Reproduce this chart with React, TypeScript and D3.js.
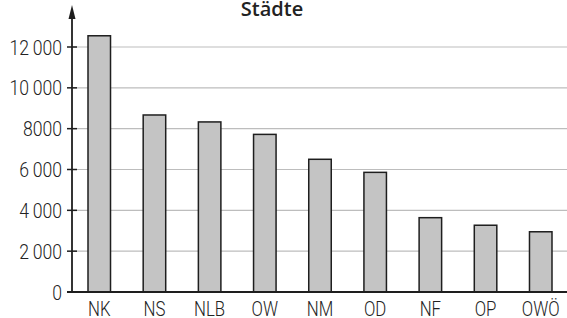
import * as d3 from "d3";
import { useRef, useEffect } from "react";

const categories = ["NK", "NS", "NLB", "OW", "NM", "OD", "NF", "OP", "OWÖ"];
const values = [12550, 8670, 8330, 7720, 6500, 5860, 3640, 3270, 2950];
const yTicks = [0, 2000, 4000, 6000, 8000, 10000, 12000];
const yTickLabels = ["0", "2\u2009000", "4\u2009000", "6\u2009000", "8000", "10\u2009000", "12\u2009000"];
const title = "Städte";

const W = 567;
const H = 318;
const FONT = "Roboto, 'DejaVu Sans', sans-serif";
const SQUEEZE = 0.84; // horizontal squeeze to mimic a condensed face

const App = () => {
  const ref = useRef<SVGSVGElement>(null);

  useEffect(() => {
    const svg = d3.select(ref.current);
    svg.selectAll("*").remove();

    const left = 72;
    const bottom = 292;

    const x = d3.scaleBand()
      .domain(categories)
      .range([left, 568])
      .paddingInner(0.592)
      .paddingOuter(0.29);

    const y = d3.scaleLinear()
      .domain([0, 12000])
      .range([bottom, 47]);

    // gridlines
    svg.append("g")
      .selectAll("line")
      .data(yTicks.filter((d) => d > 0))
      .join("line")
      .attr("x1", left)
      .attr("x2", W)
      .attr("y1", (d) => y(d))
      .attr("y2", (d) => y(d))
      .attr("stroke", "#bdbdbd")
      .attr("stroke-width", 1.2);

    // bars
    svg.append("g")
      .selectAll("rect")
      .data(values)
      .join("rect")
      .attr("x", (_, i) => x(categories[i])!)
      .attr("y", (d) => y(d))
      .attr("width", x.bandwidth())
      .attr("height", (d) => bottom - y(d))
      .attr("fill", "#c4c4c4")
      .attr("stroke", "#1e1e1e")
      .attr("stroke-width", 1.5);

    // x axis line
    svg.append("line")
      .attr("x1", 67)
      .attr("x2", W)
      .attr("y1", bottom)
      .attr("y2", bottom)
      .attr("stroke", "#1e1e1e")
      .attr("stroke-width", 2);

    // y axis with arrow
    svg.append("line")
      .attr("x1", left)
      .attr("x2", left)
      .attr("y1", bottom)
      .attr("y2", 14)
      .attr("stroke", "#1e1e1e")
      .attr("stroke-width", 1.8);
    svg.append("path")
      .attr("d", `M${left},5 L${left - 3.5},19 L${left + 3.5},19 Z`)
      .attr("fill", "#1e1e1e");

    // y ticks + labels
    const yt = svg.append("g");
    yt.selectAll("line")
      .data(yTicks)
      .join("line")
      .attr("x1", 67)
      .attr("x2", 77)
      .attr("y1", (d) => y(d))
      .attr("y2", (d) => y(d))
      .attr("stroke", "#1e1e1e")
      .attr("stroke-width", 1.5);
    yt.selectAll("text")
      .data(yTicks)
      .join("text")
      .attr("transform", (d) => `translate(62,${y(d)}) scale(${SQUEEZE},1)`)
      .attr("dy", "0.36em")
      .attr("text-anchor", "end")
      .attr("font-family", FONT)
      .attr("font-weight", 300)
      .attr("font-size", 21)
      .attr("fill", "#222")
      .text((_, i) => yTickLabels[i]);

    // x labels
    svg.append("g")
      .selectAll("text")
      .data(categories)
      .join("text")
      .attr("transform", (d) => `translate(${x(d)! + x.bandwidth() / 2},315.5) scale(${SQUEEZE},1)`)
      .attr("text-anchor", "middle")
      .attr("font-family", FONT)
      .attr("font-weight", 300)
      .attr("font-size", 20)
      .attr("fill", "#222")
      .text((d) => d);

    // title
    svg.append("text")
      .attr("x", 272)
      .attr("y", 16)
      .attr("text-anchor", "middle")
      .attr("font-family", "'Open Sans', 'DejaVu Sans', sans-serif")
      .attr("font-size", 20)
      .attr("font-weight", 600)
      .attr("fill", "#222")
      .text(title);
  }, []);

  return (
    <svg
      ref={ref}
      width={W}
      height={H}
      style={{ position: "absolute", left: 0, top: 0, background: "#fff" }}
    />
  );
};

export default App;
